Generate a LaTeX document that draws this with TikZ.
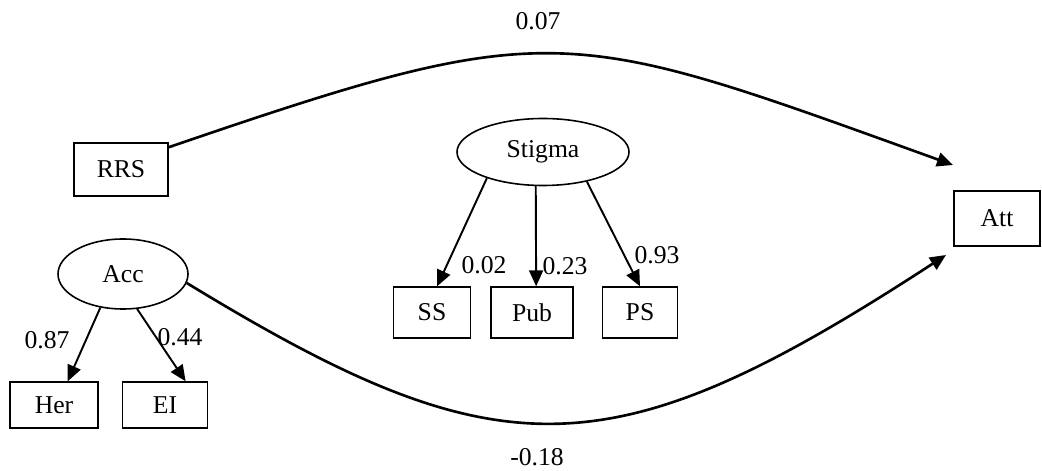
\documentclass[tikz,border=0pt]{standalone}
\usepackage{fontspec}
\setmainfont{Liberation Serif}
\usetikzlibrary{arrows.meta,shapes.geometric}
\begin{document}
\begin{tikzpicture}[
  every node/.style={font=\fontsize{14.6pt}{17pt}\selectfont},
  obs/.style={draw,line width=0.8pt,inner sep=0pt,minimum height=1.02cm},
  lat/.style={draw,ellipse,line width=0.9pt,inner sep=0pt},
  load/.style={-{Triangle[length=0.32cm,width=0.28cm]},line width=1.1pt},
  effect/.style={-{Triangle[length=0.32cm,width=0.28cm]},line width=1.5pt}]

\useasboundingbox (0,0) rectangle (20.84,-9.42);

\node[obs,minimum width=1.88cm,minimum height=1.06cm] (rrs) at (2.42,-3.39) {RRS};
\node[lat,minimum width=2.6cm,minimum height=1.4cm] (acc) at (2.46,-5.48) {Acc};
\node[obs,minimum width=1.76cm,minimum height=0.92cm] (her) at (1.08,-8.10) {Her};
\node[obs,minimum width=1.70cm,minimum height=0.92cm] (ei) at (3.30,-8.10) {EI};

\node[lat,minimum width=3.44cm,minimum height=1.34cm] (stigma) at (10.86,-3.04) {Stigma};
\node[obs,minimum width=1.54cm] (ss) at (8.64,-6.25) {SS};
\node[obs,minimum width=1.64cm] (pub) at (10.64,-6.25) {Pub};
\node[obs,minimum width=1.50cm] (ps) at (12.80,-6.25) {PS};

\node[obs,minimum width=1.72cm,minimum height=1.1cm] (att) at (19.94,-4.37) {Att};
\coordinate (attup) at (19.06,-3.30);
\coordinate (attlow) at (18.92,-5.10);

\draw[load] (acc.236) -- (her.60);
\draw[load] (acc.-68) -- (ei.49);
\draw[load] (stigma.-155) -- (ss.79);
\draw[load] (stigma.-102) -- (pub.81);
\draw[load] (stigma.-34) -- (ps.north);

\draw[effect] (rrs.25) .. controls (11.10,-0.30) and (11.30,-0.50) .. (attup);
\draw[effect] (acc.-8) .. controls (10.00,-9.48) and (12.20,-9.48) .. (attlow);

\node (l07) at (10.76,-0.43) {0.07};
\node (l18) at (10.74,-9.14) {-0.18};
\node (l87) at (0.94,-6.80) {0.87};
\node (l44) at (3.60,-6.74) {0.44};
\node (l02) at (9.68,-5.30) {0.02};
\node (l23) at (11.30,-5.32) {0.23};
\node (l93) at (13.14,-5.10) {0.93};

\end{tikzpicture}
\end{document}
